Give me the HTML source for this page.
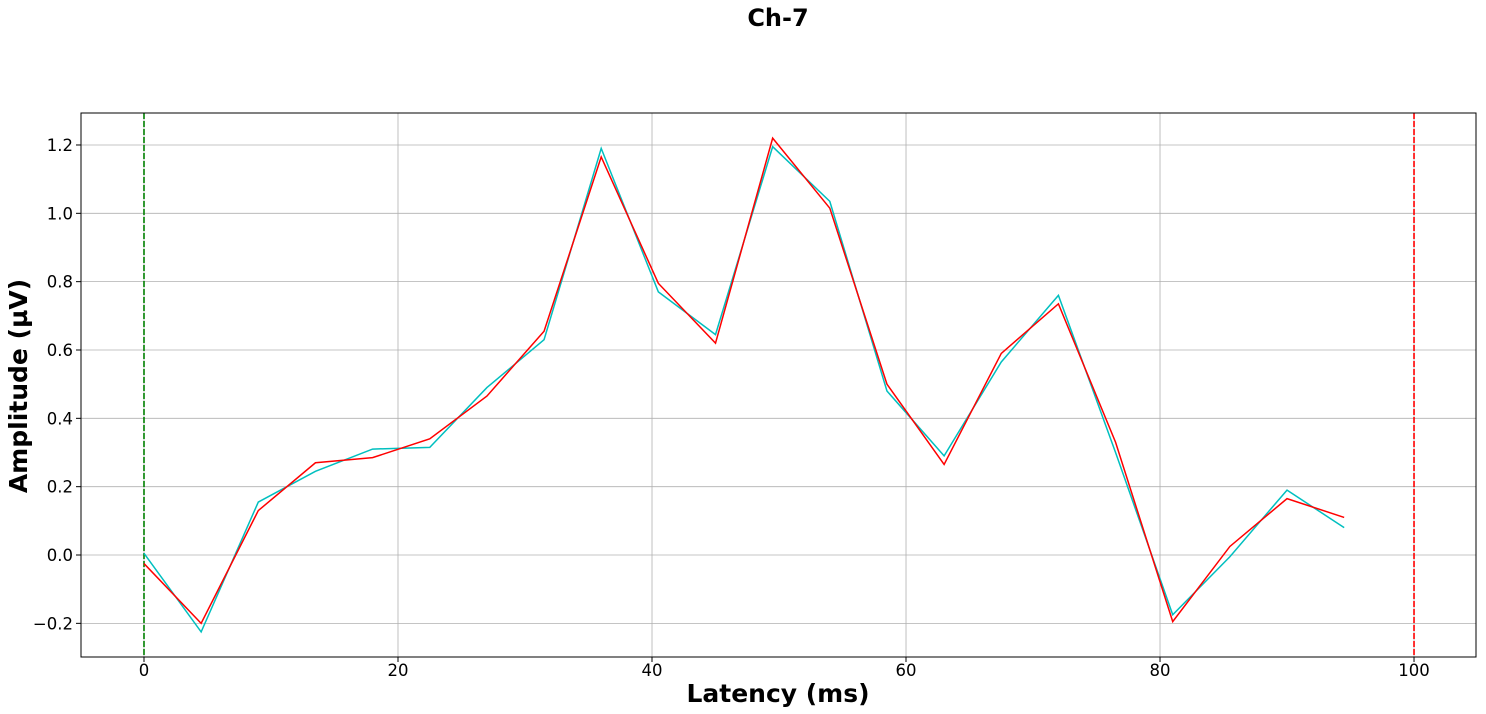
<!DOCTYPE html>
<html><head><meta charset="utf-8"><style>
body{margin:0;background:#fff;}
svg{display:block;font-family:"DejaVu Sans","Liberation Sans",sans-serif;}
</style></head><body>
<svg id="chart" width="1486" height="714">
<text x="778" y="26" text-anchor="middle" font-size="24" font-weight="bold">Ch-7</text>
<g id="grid"></g><g id="plot"></g>
<rect x="81" y="113" width="1395" height="544" fill="none" stroke="#000" stroke-width="1"/>
<text x="778" y="702" text-anchor="middle" font-size="25" font-weight="bold">Latency (ms)</text>
<text transform="translate(27,386) rotate(-90)" text-anchor="middle" font-size="25" font-weight="bold">Amplitude (µV)</text>
</svg>
<script>
const latency=[0,4.5,9,13.5,18,22.5,27,31.5,36,40.5,45,49.5,54,58.5,63,67.5,72,76.5,81,85.5,90,94.5];
const cyanSeries=[0.005,-0.225,0.155,0.245,0.31,0.315,0.49,0.63,1.19,0.77,0.645,1.195,1.035,0.48,0.29,0.565,0.76,0.30,-0.175,-0.005,0.19,0.08];
const redSeries=[-0.025,-0.2,0.13,0.27,0.285,0.34,0.465,0.655,1.165,0.795,0.62,1.22,1.015,0.5,0.265,0.59,0.735,0.33,-0.195,0.025,0.165,0.11];
const xTicks=[0,20,40,60,80,100];
const yTicks=[-0.2,0.0,0.2,0.4,0.6,0.8,1.0,1.2];
const onsetLine=0, offsetLine=100;
const L=81,R=1476,T=113,B=657;
const xMin=-4.96,xMax=104.88,yMin=-0.2985,yMax=1.2936;
const X=v=>L+(v-xMin)/(xMax-xMin)*(R-L);
const Y=v=>B-(v-yMin)/(yMax-yMin)*(B-T);
const NS="http://www.w3.org/2000/svg";
const grid=document.getElementById('grid'),plot=document.getElementById('plot'),svg=document.getElementById('chart');
function mk(tag,attrs,parent){const e=document.createElementNS(NS,tag);for(const k in attrs)e.setAttribute(k,attrs[k]);parent.appendChild(e);return e;}
xTicks.forEach(t=>{
 const x=X(t);
 const g=mk('line',{x1:x,x2:x,y1:T,y2:B,stroke:'#b0b0b0','stroke-width':0.8},grid);
 
 
 const tk=mk('line',{x1:x,x2:x,y1:B,y2:B+5,stroke:'#000'},svg);
 
 
 const tx=mk('text',{x:x,y:B+19,'text-anchor':'middle','font-size':16.5},svg);
 tx.textContent=t;
 
 
});
yTicks.forEach(t=>{
 const y=Y(t);
 const g=mk('line',{x1:L,x2:R,y1:y,y2:y,stroke:'#b0b0b0','stroke-width':0.8},grid);
 
 
 const tk=mk('line',{x1:L-5,x2:L,y1:y,y2:y,stroke:'#000'},svg);
 
 
 const tx=mk('text',{x:L-8,y:y+6,'text-anchor':'end','font-size':16.5},svg);
 tx.textContent=(t<0?'\u2212':'')+Math.abs(t).toFixed(1);
 
 
});
const on=mk('line',{x1:X(onsetLine),x2:X(onsetLine),y1:T,y2:B,stroke:'green','stroke-width':1.6,'stroke-dasharray':'6,2'},plot);


const off=mk('line',{x1:X(offsetLine),x2:X(offsetLine),y1:T,y2:B,stroke:'red','stroke-width':1.6,'stroke-dasharray':'6,2'},plot);


function series(vals,color,name){
 const p=mk('polyline',{points:vals.map((v,i)=>X(latency[i])+','+Y(v)).join(' '),fill:'none',stroke:color,'stroke-width':1.5},plot);
 
 
}
series(cyanSeries,'#00bfbf','cyan-series-line');
series(redSeries,'red','red-series-line');
</script>
</body></html>
